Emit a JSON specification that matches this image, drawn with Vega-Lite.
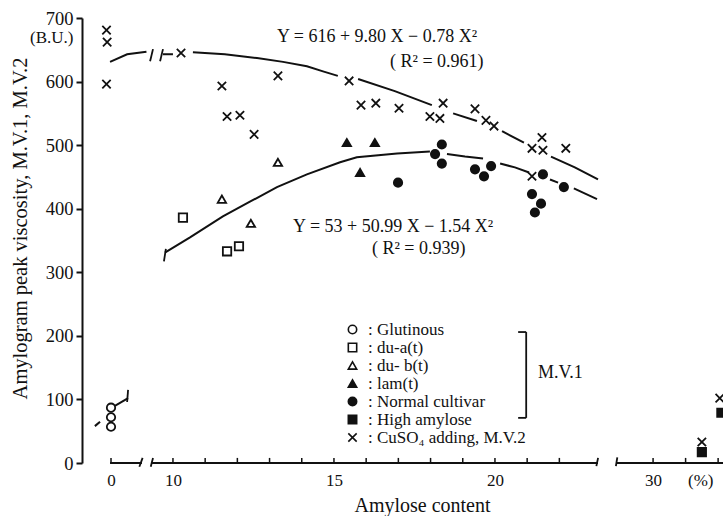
{
  "$schema": "https://vega.github.io/schema/vega-lite/v6.json",
  "width": 641,
  "height": 445,
  "autosize": {"type": "none"},
  "padding": {"left": 82, "top": 18, "right": 0, "bottom": 53},
  "background": "white",
  "config": {
    "view": {"stroke": null},
    "font": "Liberation Serif",
    "legend": {
      "labelFont": "Liberation Serif",
      "labelFontSize": 17,
      "labelColor": "#111",
      "symbolStrokeWidth": 1.6,
      "rowPadding": 0,
      "padding": 0,
      "labelOffset": 7
    }
  },
  "datasets": {
    "pts": [
      {"group": "Glutinous", "x": 0, "v": 87},
      {"group": "Glutinous", "x": 0, "v": 72},
      {"group": "Glutinous", "x": 0, "v": 57},
      {"group": "du-a(t)", "x": 10.31, "v": 386},
      {"group": "du-a(t)", "x": 11.68, "v": 333},
      {"group": "du-a(t)", "x": 12.05, "v": 341},
      {"group": "du- b(t)", "x": 13.26, "v": 473},
      {"group": "du- b(t)", "x": 11.52, "v": 415},
      {"group": "du- b(t)", "x": 12.42, "v": 377},
      {"group": "lam(t)", "x": 15.4, "v": 504},
      {"group": "lam(t)", "x": 16.27, "v": 504},
      {"group": "lam(t)", "x": 15.81, "v": 457},
      {"group": "Normal cultivar", "x": 18.35, "v": 501},
      {"group": "Normal cultivar", "x": 18.14, "v": 486},
      {"group": "Normal cultivar", "x": 18.35, "v": 471},
      {"group": "Normal cultivar", "x": 16.99, "v": 441},
      {"group": "Normal cultivar", "x": 19.38, "v": 462},
      {"group": "Normal cultivar", "x": 19.66, "v": 451},
      {"group": "Normal cultivar", "x": 19.88, "v": 467},
      {"group": "Normal cultivar", "x": 21.49, "v": 454},
      {"group": "Normal cultivar", "x": 22.14, "v": 434},
      {"group": "Normal cultivar", "x": 21.15, "v": 423},
      {"group": "Normal cultivar", "x": 21.43, "v": 408},
      {"group": "Normal cultivar", "x": 21.24, "v": 394},
      {"group": "High amylose", "x": 31.5, "v": 17},
      {"group": "High amylose", "x": 32.1, "v": 79},
      {"group": "CuSO₄ adding, M.V.2", "x": -0.14, "v": 681},
      {"group": "CuSO₄ adding, M.V.2", "x": -0.12, "v": 662},
      {"group": "CuSO₄ adding, M.V.2", "x": -0.14, "v": 596},
      {"group": "CuSO₄ adding, M.V.2", "x": 10.25, "v": 645},
      {"group": "CuSO₄ adding, M.V.2", "x": 11.52, "v": 593},
      {"group": "CuSO₄ adding, M.V.2", "x": 13.26, "v": 609},
      {"group": "CuSO₄ adding, M.V.2", "x": 11.68, "v": 545},
      {"group": "CuSO₄ adding, M.V.2", "x": 12.08, "v": 547},
      {"group": "CuSO₄ adding, M.V.2", "x": 12.52, "v": 517},
      {"group": "CuSO₄ adding, M.V.2", "x": 15.47, "v": 601},
      {"group": "CuSO₄ adding, M.V.2", "x": 15.84, "v": 563},
      {"group": "CuSO₄ adding, M.V.2", "x": 16.3, "v": 566},
      {"group": "CuSO₄ adding, M.V.2", "x": 17.02, "v": 558},
      {"group": "CuSO₄ adding, M.V.2", "x": 18.39, "v": 566},
      {"group": "CuSO₄ adding, M.V.2", "x": 17.98, "v": 545},
      {"group": "CuSO₄ adding, M.V.2", "x": 18.29, "v": 542},
      {"group": "CuSO₄ adding, M.V.2", "x": 19.38, "v": 557},
      {"group": "CuSO₄ adding, M.V.2", "x": 19.72, "v": 539},
      {"group": "CuSO₄ adding, M.V.2", "x": 19.97, "v": 530},
      {"group": "CuSO₄ adding, M.V.2", "x": 21.46, "v": 512},
      {"group": "CuSO₄ adding, M.V.2", "x": 21.15, "v": 495},
      {"group": "CuSO₄ adding, M.V.2", "x": 21.49, "v": 492},
      {"group": "CuSO₄ adding, M.V.2", "x": 22.2, "v": 495},
      {"group": "CuSO₄ adding, M.V.2", "x": 21.15, "v": 451},
      {"group": "CuSO₄ adding, M.V.2", "x": 31.5, "v": 33},
      {"group": "CuSO₄ adding, M.V.2", "x": 32.05, "v": 102}
    ],
    "curves": [
      {"seg": "u1", "x": -0.03, "v": 631},
      {"seg": "u1", "x": 0.5, "v": 643},
      {"seg": "u1", "x": 1.1, "v": 647},
      {"seg": "u2a", "x": 9.69, "v": 643},
      {"seg": "u2a", "x": 10.0, "v": 643},
      {"seg": "u2b", "x": 10.62, "v": 646},
      {"seg": "u2b", "x": 11.61, "v": 643},
      {"seg": "u2b", "x": 12.61, "v": 637},
      {"seg": "u2b", "x": 13.42, "v": 631},
      {"seg": "u2b", "x": 14.16, "v": 624},
      {"seg": "u2b", "x": 14.66, "v": 616},
      {"seg": "u2b", "x": 15.12, "v": 609},
      {"seg": "u2c", "x": 15.75, "v": 604},
      {"seg": "u2c", "x": 16.89, "v": 585},
      {"seg": "u2c", "x": 18.04, "v": 563},
      {"seg": "u2d", "x": 18.7, "v": 550},
      {"seg": "u2d", "x": 19.44, "v": 538},
      {"seg": "u2e", "x": 20.22, "v": 522},
      {"seg": "u2e", "x": 20.9, "v": 504},
      {"seg": "u2f", "x": 21.74, "v": 482},
      {"seg": "u2f", "x": 22.48, "v": 465},
      {"seg": "u2f", "x": 23.2, "v": 446},
      {"seg": "l1", "x": 9.75, "v": 331},
      {"seg": "l1", "x": 10.53, "v": 355},
      {"seg": "l1", "x": 11.55, "v": 388},
      {"seg": "l1", "x": 12.39, "v": 411},
      {"seg": "l1", "x": 13.23, "v": 434},
      {"seg": "l1", "x": 14.16, "v": 454},
      {"seg": "l1", "x": 15.19, "v": 473},
      {"seg": "l1", "x": 15.71, "v": 481},
      {"seg": "l1", "x": 16.96, "v": 487},
      {"seg": "l1", "x": 17.98, "v": 490},
      {"seg": "l2", "x": 18.51, "v": 486},
      {"seg": "l2", "x": 19.07, "v": 482},
      {"seg": "l2", "x": 19.63, "v": 479},
      {"seg": "l3", "x": 20.16, "v": 471},
      {"seg": "l3", "x": 20.62, "v": 465},
      {"seg": "l3", "x": 21.06, "v": 457},
      {"seg": "l4", "x": 21.71, "v": 446},
      {"seg": "l4", "x": 21.96, "v": 441},
      {"seg": "l5", "x": 22.45, "v": 432},
      {"seg": "l5", "x": 23.17, "v": 415},
      {"seg": "g1", "x": -0.5, "v": 58},
      {"seg": "g1", "x": -0.34, "v": 65},
      {"seg": "g2", "x": 0.12, "v": 90},
      {"seg": "g2", "x": 0.53, "v": 102}
    ],
    "axisSeg": [
      {"x": -0.03, "x2": 0.96},
      {"x": 9.35, "x2": 23.2},
      {"x": 28.86, "x2": 32.3}
    ],
    "ticks": [
      {"x": 0}, {"x": 10}, {"x": 11}, {"x": 12}, {"x": 13}, {"x": 14}, {"x": 15},
      {"x": 16}, {"x": 17}, {"x": 18}, {"x": 19}, {"x": 20}, {"x": 21}, {"x": 22},
      {"x": 30}, {"x": 31}, {"x": 32}
    ],
    "strokes": [
      {"part": "axis break", "x": 0.98, "x2": 0.88, "v": 8, "v2": -6},
      {"part": "axis break", "x": 9.38, "x2": 9.31, "v": 8, "v2": -6},
      {"part": "axis break", "x": 23.22, "x2": 23.15, "v": 8, "v2": -5},
      {"part": "axis break", "x": 28.9, "x2": 28.83, "v": 9, "v2": -5},
      {"part": "curve break", "x": 9.38, "x2": 9.29, "v": 651, "v2": 632},
      {"part": "curve break", "x": 9.69, "x2": 9.6, "v": 651, "v2": 632},
      {"part": "curve end", "x": 9.78, "x2": 9.72, "v": 337, "v2": 317},
      {"part": "curve end", "x": 0.53, "x2": 0.5, "v": 115, "v2": 96},
      {"part": "bracket", "x": 20.97, "x2": 20.97, "v": 206, "v2": 71},
      {"part": "bracket", "x": 20.72, "x2": 20.97, "v": 206, "v2": 206},
      {"part": "bracket", "x": 20.72, "x2": 20.97, "v": 71, "v2": 71}
    ],
    "notes": [
      {"x": 13.23, "v": 670, "label": "Y = 616 + 9.80 X − 0.78 X²"},
      {"x": 16.74, "v": 631, "label": "( R² = 0.961)"},
      {"x": 13.73, "v": 372, "label": "Y = 53 + 50.99 X − 1.54 X²"},
      {"x": 16.18, "v": 336, "label": "( R² = 0.939)"},
      {"x": 21.34, "v": 142, "label": "M.V.1"}
    ]
  },
  "encoding": {
    "x": {
      "field": "x",
      "type": "quantitative",
      "scale": {
        "domain": [-0.9, 1.12, 9.2, 23.2, 28.86, 32.15],
        "range": [0, 65.1, 65.2, 516, 534, 641],
        "nice": false,
        "zero": false
      },
      "axis": {
        "title": "Amylose content",
        "values": [0, 10, 15, 20, 30, 31.45],
        "labelExpr": "datum.value > 31 ? '(%)' : datum.label",
        "ticks": false,
        "tickSize": 0,
        "domain": false,
        "grid": false,
        "labelPadding": 9,
        "labelFlush": false,
        "labelOverlap": false,
        "labelFont": "Liberation Serif",
        "labelFontSize": 17,
        "labelColor": "#111",
        "titleFont": "Liberation Serif",
        "titleFontSize": 20,
        "titleFontWeight": "normal",
        "titleColor": "#111",
        "titleX": 340,
        "titleY": 42,
        "titleBaseline": "middle",
        "titleAlign": "center"
      }
    }
  },
  "layer": [
    {
      "data": {"name": "axisSeg"},
      "mark": {"type": "rule", "stroke": "#111", "strokeWidth": 2},
      "encoding": {"x2": {"field": "x2"}, "y": {"datum": 0, "type": "quantitative"}}
    },
    {
      "data": {"name": "ticks"},
      "mark": {"type": "rule", "stroke": "#111", "strokeWidth": 1.5},
      "encoding": {"y": {"datum": 0, "type": "quantitative"}, "y2": {"datum": 8}}
    },
    {
      "data": {"name": "strokes"},
      "mark": {"type": "rule", "stroke": "#111", "strokeWidth": 1.8},
      "encoding": {"y": {"field": "v", "type": "quantitative"}, "y2": {"field": "v2"}, "x2": {"field": "x2"}}
    },
    {
      "data": {"name": "curves"},
      "mark": {"type": "line", "stroke": "#111", "strokeWidth": 2},
      "encoding": {"y": {"field": "v", "type": "quantitative"}, "detail": {"field": "seg", "type": "nominal"}}
    },
    {
      "data": {"name": "pts"},
      "mark": {"type": "point", "filled": true, "stroke": "#111", "strokeWidth": 1.8, "opacity": 1},
      "encoding": {
        "y": {
          "field": "v",
          "type": "quantitative",
          "scale": {"domain": [0, 700], "nice": false},
          "axis": {
            "title": "Amylogram peak viscosity, M.V.1, M.V.2",
            "values": [0, 100, 200, 300, 400, 500, 600, 700, 670],
            "labelExpr": "datum.value == 670 ? '(B.U.)' : datum.label",
            "labelFontSize": {"condition": {"test": "datum.value == 670", "value": 17}, "value": 18.5},
            "tickOpacity": {"condition": {"test": "datum.value == 670", "value": 0}, "value": 1},
            "grid": false,
            "domainColor": "#111",
            "domainWidth": 2,
            "tickColor": "#111",
            "tickWidth": 2,
            "tickSize": 6,
            "labelPadding": 3,
            "labelFlush": false,
            "labelOverlap": false,
            "labelFont": "Liberation Serif",
            "labelColor": "#111",
            "titleFont": "Liberation Serif",
            "titleFontSize": 20.5,
            "titleFontWeight": "normal",
            "titleColor": "#111",
            "titleX": -62,
            "titleY": 210,
            "titleAngle": -90,
            "titleBaseline": "middle",
            "titleAlign": "center"
          }
        },
        "shape": {
          "field": "group",
          "type": "nominal",
          "scale": {
            "domain": ["Glutinous", "du-a(t)", "du- b(t)", "lam(t)", "Normal cultivar", "High amylose", "CuSO₄ adding, M.V.2"],
            "range": ["circle", "square", "triangle-up", "triangle-up", "circle", "square", "M-1,-1L1,1M-1,1L1,-1"]
          },
          "legend": {"title": null, "orient": "none", "legendX": 262, "legendY": 303, "labelExpr": "': ' + datum.label"}
        },
        "fill": {
          "field": "group",
          "type": "nominal",
          "scale": {
            "domain": ["Glutinous", "du-a(t)", "du- b(t)", "lam(t)", "Normal cultivar", "High amylose", "CuSO₄ adding, M.V.2"],
            "range": ["white", "white", "white", "#111", "#111", "#111", "#111"]
          },
          "legend": {"title": null, "orient": "none", "legendX": 262, "legendY": 303, "labelExpr": "': ' + datum.label"}
        },
        "stroke": {
          "field": "group",
          "type": "nominal",
          "scale": {
            "domain": ["Glutinous", "du-a(t)", "du- b(t)", "lam(t)", "Normal cultivar", "High amylose", "CuSO₄ adding, M.V.2"],
            "range": ["#111", "#111", "#111", "#111", "#111", "#111", "#111"]
          },
          "legend": {"title": null, "orient": "none", "legendX": 262, "legendY": 303, "labelExpr": "': ' + datum.label"}
        },
        "size": {
          "field": "group",
          "type": "nominal",
          "scale": {
            "domain": ["Glutinous", "du-a(t)", "du- b(t)", "lam(t)", "Normal cultivar", "High amylose", "CuSO₄ adding, M.V.2"],
            "range": [70, 70, 60, 70, 110, 90, 50]
          },
          "legend": {"title": null, "orient": "none", "legendX": 262, "legendY": 303, "labelExpr": "': ' + datum.label"}
        }
      }
    },
    {
      "data": {"name": "notes"},
      "mark": {"type": "text", "align": "left", "baseline": "middle", "font": "Liberation Serif", "fontSize": 18, "fill": "#111"},
      "encoding": {"y": {"field": "v", "type": "quantitative"}, "text": {"field": "label"}}
    }
  ]
}
